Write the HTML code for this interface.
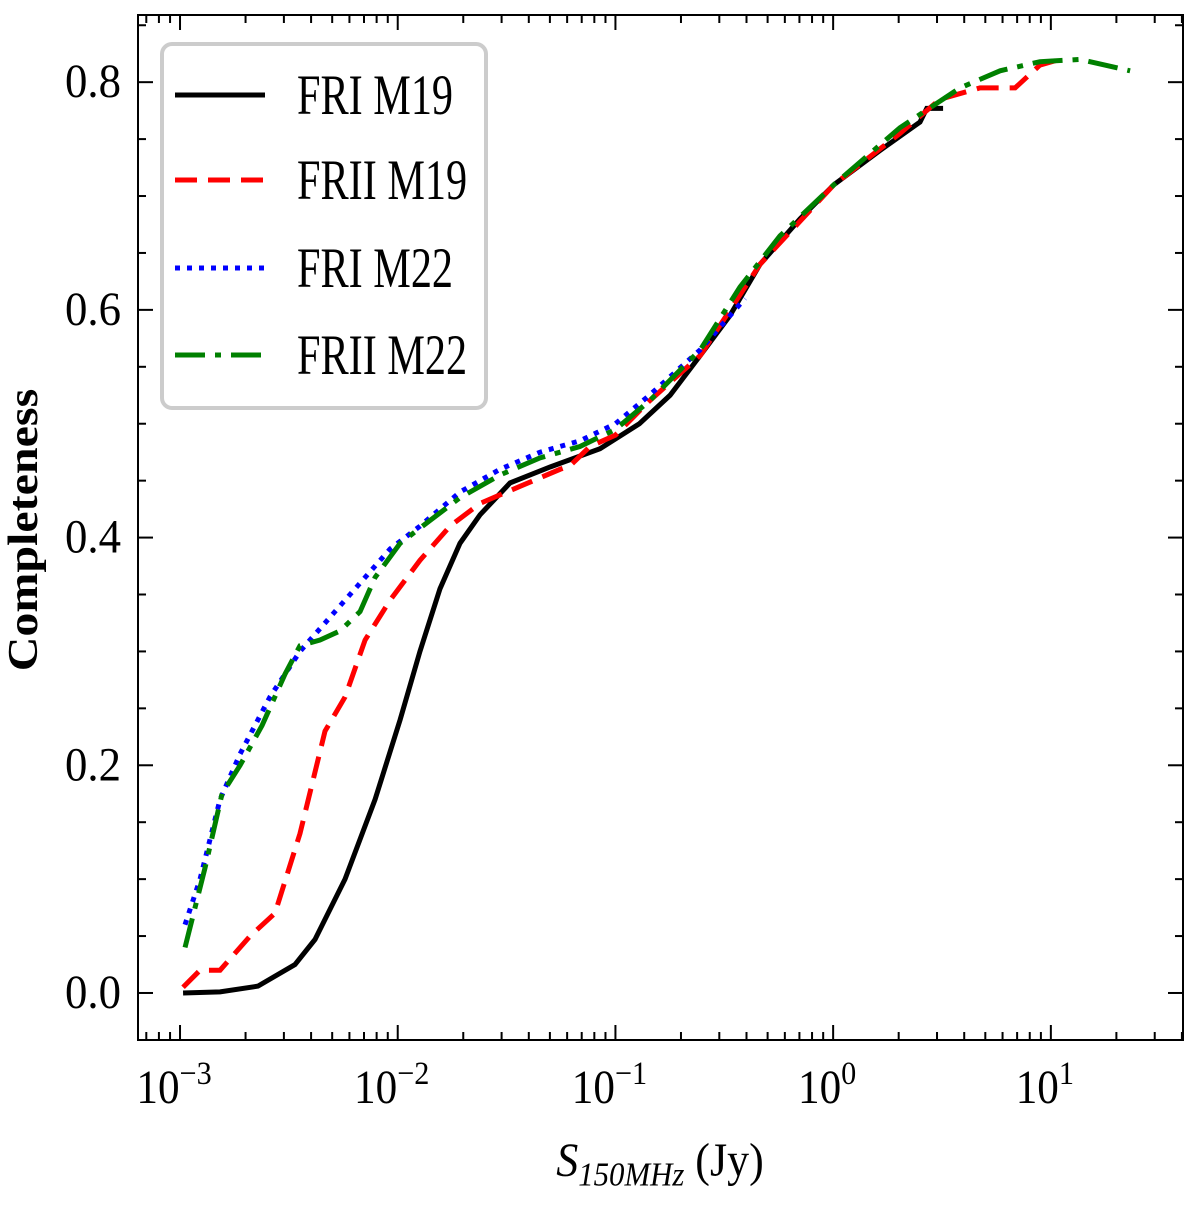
<!DOCTYPE html>
<html><head><meta charset="utf-8"><style>
body{margin:0;background:#fff;width:1200px;height:1205px;overflow:hidden}
svg{display:block}
text{font-family:"Liberation Serif",serif;fill:#000}
</style></head><body>
<svg id="chart" width="1200" height="1205">
<g id="plot"></g>
</svg>
<script>
const fr1m19X=[-2.986,-2.816,-2.642,-2.472,-2.380,-2.242,-2.104,-1.989,-1.898,-1.806,-1.714,-1.622,-1.484,-1.300,-1.071,-0.890,-0.749,-0.610,-0.474,-0.336,-0.152,0.004,0.215,0.399,0.430,0.505];
const fr1m19Y=[0.0,0.001,0.006,0.025,0.047,0.10,0.17,0.24,0.30,0.355,0.395,0.42,0.448,0.462,0.478,0.50,0.525,0.56,0.595,0.64,0.68,0.71,0.74,0.765,0.777,0.777];
const fr2m19X=[-2.986,-2.908,-2.816,-2.678,-2.564,-2.449,-2.334,-2.242,-2.150,-2.035,-1.898,-1.760,-1.622,-1.438,-1.254,-1.209,-1.117,-1.0,-0.844,-0.610,-0.336,0.004,0.307,0.491,0.675,0.836,0.950,1.042];
const fr2m19Y=[0.005,0.02,0.02,0.05,0.07,0.14,0.23,0.26,0.31,0.345,0.38,0.41,0.43,0.445,0.46,0.463,0.48,0.49,0.52,0.56,0.64,0.71,0.755,0.785,0.795,0.795,0.815,0.82];
const fr1m22X=[-2.977,-2.908,-2.816,-2.724,-2.587,-2.449,-2.311,-2.173,-2.035,-1.898,-1.714,-1.530,-1.346,-1.163,-1.0,-0.844,-0.610,-0.405];
const fr1m22Y=[0.06,0.10,0.17,0.21,0.26,0.30,0.33,0.36,0.39,0.41,0.44,0.46,0.475,0.485,0.50,0.525,0.565,0.61];
const fr2m22X=[-2.977,-2.885,-2.807,-2.724,-2.623,-2.518,-2.449,-2.357,-2.265,-2.173,-2.104,-1.989,-1.852,-1.714,-1.530,-1.346,-1.163,-1.0,-0.844,-0.610,-0.428,-0.244,0.004,0.307,0.583,0.767,0.950,1.134,1.364];
const fr2m22Y=[0.04,0.11,0.175,0.20,0.235,0.28,0.305,0.31,0.318,0.335,0.365,0.395,0.415,0.435,0.455,0.47,0.48,0.495,0.52,0.565,0.62,0.665,0.71,0.76,0.795,0.81,0.818,0.82,0.81];
const xTickExps=[-3,-2,-1,0,1];
const yTicks=[0.0,0.2,0.4,0.6,0.8];
const legendLabels=["FRI M19","FRII M19","FRI M22","FRII M22"];

const L=138,R=1183,T=15,B=1040;
const xMin=-3.193,xMax=1.607,yMin=-0.0413,yMax=0.859;
const sx=v=>L+(v-xMin)/(xMax-xMin)*(R-L);
const sy=v=>B-(v-yMin)/(yMax-yMin)*(B-T);
const NS="http://www.w3.org/2000/svg";
const g=document.getElementById('plot');
function mk(tag,attrs,parent){const e=document.createElementNS(NS,tag);for(const k in attrs)e.setAttribute(k,attrs[k]);(parent||g).appendChild(e);return e;}

const series=[
 {x:fr1m19X,y:fr1m19Y,c:"#000",d:"",n:"fri-m19-line"},
 {x:fr2m19X,y:fr2m19Y,c:"#f00",d:"22 11",n:"frii-m19-line"},
 {x:fr1m22X,y:fr1m22Y,c:"#00f",d:"5 7",n:"fri-m22-line"},
 {x:fr2m22X,y:fr2m22Y,c:"#008000",d:"30 10 6 10",n:"frii-m22-line"}];
series.forEach(s=>{
 const p=mk('polyline',{points:s.x.map((v,i)=>sx(v)+","+sy(s.y[i])).join(" "),fill:"none",stroke:s.c,"stroke-width":5,"stroke-dasharray":s.d});
 
 
});

const fr=mk('rect',{x:L,y:T,width:R-L,height:B-T,fill:"none",stroke:"#000","stroke-width":2});



for(let e=-4;e<=1;e++){for(let m=1;m<10;m++){const v=e+Math.log10(m);if(v<xMin||v>xMax)continue;const x=sx(v);const len=m==1?15:8;
 mk('line',{x1:x,y1:B,x2:x,y2:B-len,stroke:"#000","stroke-width":2});
 mk('line',{x1:x,y1:T,x2:x,y2:T+len,stroke:"#000","stroke-width":2});}}
xTickExps.forEach(e=>{const t=mk('text',{x:0,y:0,"font-size":40,"text-anchor":"middle",transform:`translate(${sx(e)-6},1103) scale(1.08,1.18)`});
 t.textContent="10";const s=mk('tspan',{dy:-16,"font-size":28},t);s.textContent=(e<0?"\u2212"+(-e):""+e);
 
 });
for(let k=0;k<=17;k++){const v=k*0.05;if(v>yMax)continue;const y=sy(v);const len=k%4==0?15:8;
 mk('line',{x1:L,y1:y,x2:L+len,y2:y,stroke:"#000","stroke-width":2});
 mk('line',{x1:R,y1:y,x2:R-len,y2:y,stroke:"#000","stroke-width":2});}
yTicks.forEach(v=>{const t=mk('text',{x:0,y:0,"font-size":40,"text-anchor":"end",transform:`translate(121,${sy(v)+15}) scale(1.12,1.18)`});t.textContent=v.toFixed(1);
 
 });

const yt=mk('text',{x:0,y:0,"font-size":40,"text-anchor":"middle","font-weight":"bold",transform:"translate(37,530) rotate(-90) scale(1.2,1.05)"});yt.textContent="Completeness";


const xt=mk('text',{x:0,y:0,"font-size":40,"text-anchor":"middle",transform:"translate(660,1176) scale(1.1,1.2)"});
const a=mk('tspan',{"font-style":"italic"},xt);a.textContent="S";
const b=mk('tspan',{"font-style":"italic","font-size":28,dy:8},xt);b.textContent="150MHz";
const c=mk('tspan',{dy:-8},xt);c.textContent=" (Jy)";



const lg=mk('g',{});


mk('rect',{x:162,y:44,width:324,height:364,rx:10,fill:"#fff","fill-opacity":0.85,stroke:"#ccc","stroke-width":4},lg);
const ly=[95,180,268,355];
series.forEach((s,i)=>{const e=mk('g',{},lg);
 
 
 mk('line',{x1:175,y1:ly[i],x2:265,y2:ly[i],stroke:s.c,"stroke-width":5,"stroke-dasharray":s.d},e);
 const t=mk('text',{x:0,y:0,"font-size":44,transform:`translate(297,${ly[i]+19}) scale(0.96,1.3)`},e);t.textContent=legendLabels[i];});
</script>
</body></html>
